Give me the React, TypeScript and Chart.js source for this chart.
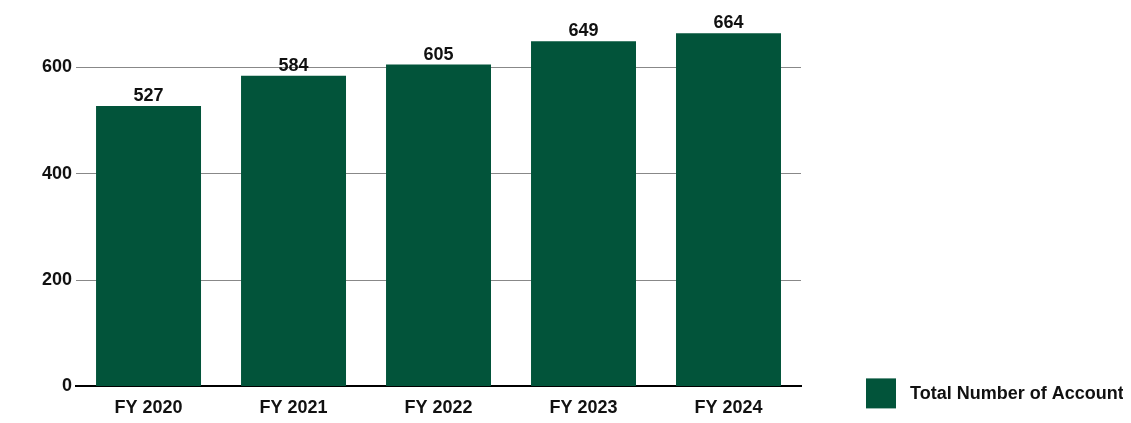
import React, { useEffect, useRef } from "react";
import { Chart, registerables } from "chart.js";

Chart.register(...registerables);

const categories = ["FY 2020", "FY 2021", "FY 2022", "FY 2023", "FY 2024"];
const accounts = [527, 584, 605, 649, 664];
const seriesLabel = "Total Number of Accounts";
const yTicks = [0, 200, 400, 600];

const GREEN = "#02543a";
const FONT = "'Liberation Sans', Arial, Helvetica, sans-serif";

const valueLabels = {
  id: "valueLabels",
  afterDatasetsDraw(chart: any) {
    const ctx = chart.ctx;
    const meta = chart.getDatasetMeta(0);
    const data = chart.data.datasets[0].data as number[];
    ctx.save();
    ctx.font = `bold 18px ${FONT}`;
    ctx.fillStyle = "#111";
    ctx.textAlign = "center";
    ctx.textBaseline = "alphabetic";
    meta.data.forEach((bar: any, i: number) => {
      ctx.fillText(String(data[i]), bar.x, bar.y - 5);
    });
    ctx.restore();
  },
};

const sideLegend = {
  id: "sideLegend",
  afterDraw(chart: any) {
    const ctx = chart.ctx;
    const ds = chart.data.datasets[0];
    const area = chart.chartArea;
    const boxX = area.right + 65;
    const boxY = area.bottom - 8;
    ctx.save();
    ctx.fillStyle = ds.backgroundColor;
    ctx.fillRect(boxX, boxY, 30, 30);
    ctx.font = `bold 18px ${FONT}`;
    ctx.fillStyle = "#111";
    ctx.textAlign = "left";
    ctx.textBaseline = "middle";
    ctx.fillText(ds.label, boxX + 44, boxY + 16);
    ctx.restore();
  },
};

export default function App() {
  const ref = useRef<HTMLCanvasElement>(null);

  useEffect(() => {
    document.documentElement.style.overflow = "hidden";
    const chart = new Chart(ref.current as HTMLCanvasElement, {
      type: "bar",
      data: {
        labels: categories,
        datasets: [
          {
            label: seriesLabel,
            data: accounts,
            backgroundColor: GREEN,
            categoryPercentage: 1,
            barPercentage: 0.724,
          },
        ],
      },
      options: {
        responsive: false,
        animation: false,
        layout: { padding: { left: 30, right: 330, top: 6, bottom: 0 } },
        plugins: {
          legend: { display: false },
          tooltip: { enabled: false },
        },
        scales: {
          x: {
            grid: { display: false, drawTicks: false },
            border: { display: true, color: "#000", width: 2 },
            ticks: {
              color: "#111",
              font: { family: FONT, size: 18, weight: "bold" },
              padding: 11,
              maxRotation: 0,
            },
          },
          y: {
            min: 0,
            max: 700,
            afterBuildTicks: (scale: any) => {
              scale.ticks = yTicks.map((v) => ({ value: v }));
            },
            grid: { color: "#888", lineWidth: 1, drawTicks: false },
            border: { display: false },
            ticks: {
              color: "#111",
              font: { family: FONT, size: 18, weight: "bold", lineHeight: 0.2 },
              padding: 4,
            },
          },
        },
      },
      plugins: [valueLabels, sideLegend],
    });
    return () => chart.destroy();
  }, []);

  return (
    <div
      style={{
        width: 1123,
        height: 415,
        overflow: "hidden",
        marginBottom: -8,
      }}
    >
      <canvas ref={ref} width={1123} height={422} style={{ display: "block" }} />
    </div>
  );
}
